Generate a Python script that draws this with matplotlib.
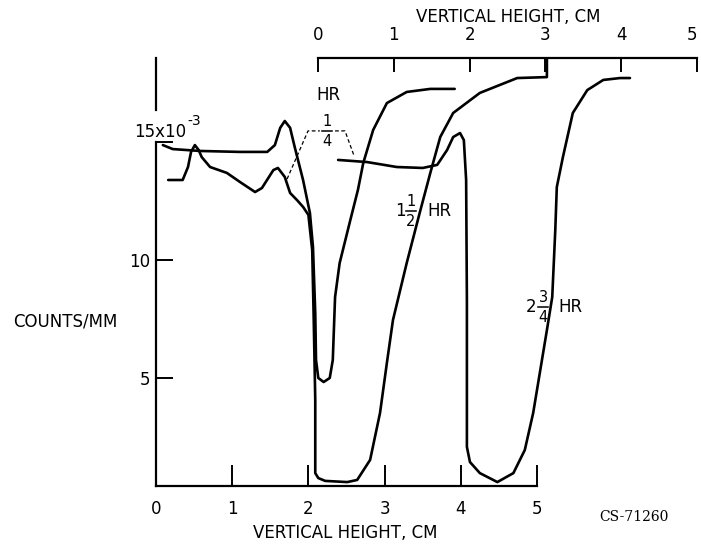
import matplotlib
matplotlib.use('Agg')
import matplotlib.pyplot as plt

plt.rcParams['font.family'] = ['DejaVu Sans']

# curve readings, x in cm (bottom scale), y in counts/mm x 10^-3
quarter_hr_x = [0.09, 0.22, 0.58, 1.10, 1.46, 1.56, 1.63, 1.69, 1.76, 1.82, 1.93,
                2.02, 2.06, 2.09, 2.10, 2.13, 2.20, 2.28, 2.32, 2.35, 2.41, 2.55,
                2.65, 2.72, 2.85, 3.03, 3.29, 3.60, 3.92]
quarter_hr_y = [14.87, 14.70, 14.62, 14.58, 14.58, 14.87, 15.60, 15.89, 15.60, 14.79, 13.39,
                11.99, 10.55, 7.75, 5.76, 5.00, 4.83, 5.00, 5.76, 8.43, 9.87, 11.69,
                12.97, 14.11, 15.51, 16.65, 17.12, 17.25, 17.25]

one_half_hr_x = [0.16, 0.35, 0.42, 0.46, 0.51, 0.56, 0.60, 0.71, 0.93, 1.10, 1.30,
                 1.39, 1.54, 1.60, 1.69, 1.76, 1.85, 1.93, 2.00, 2.05, 2.07, 2.09,
                 2.09, 2.13, 2.22, 2.51, 2.64, 2.81, 2.94, 3.03, 3.11, 3.29, 3.46,
                 3.60, 3.73, 3.90, 4.25, 4.74, 5.13, 5.13]
one_half_hr_y = [13.39, 13.39, 13.94, 14.58, 14.87, 14.66, 14.36, 13.94, 13.69, 13.31, 12.88,
                 13.05, 13.81, 13.90, 13.52, 12.84, 12.54, 12.25, 11.91, 10.42, 7.46, 4.07,
                 0.97, 0.76, 0.64, 0.59, 0.68, 1.53, 3.52, 5.64, 7.46, 9.87, 11.99,
                 13.69, 15.21, 16.23, 17.08, 17.71, 17.75, 18.56]

three_qtr_hr_x = [2.39, 2.77, 3.16, 3.50, 3.69, 3.82, 3.90, 3.99, 4.04, 4.07, 4.08,
                  4.08, 4.12, 4.25, 4.48, 4.69, 4.84, 4.95, 5.13, 5.20, 5.24, 5.26,
                  5.34, 5.47, 5.66, 5.87, 6.09, 6.22]
three_qtr_hr_y = [14.24, 14.15, 13.94, 13.90, 14.03, 14.66, 15.21, 15.38, 15.08, 13.39, 8.30,
                  2.08, 1.44, 0.97, 0.59, 0.97, 1.95, 3.52, 7.03, 8.43, 11.27, 13.09,
                  14.36, 16.23, 17.20, 17.63, 17.71, 17.71]

bottom_ticks = [0, 1, 2, 3, 4, 5]
top_ticks = [0, 1, 2, 3, 4, 5]
y_ticks = [5, 10, 15]
y_ticklabels = ['5', '10', '']

W, H = 701, 545
fig = plt.figure(figsize=(7.01, 5.45), dpi=100)

ax = fig.add_axes([156 / W, (H - 486) / H, (697 - 156) / W, (486 - 58) / H])
ax.set_xlim(0, (697 - 156) / 76.2)
ax.set_ylim((496 - 486) / 23.6, (496 - 58) / 23.6)
ylo, yhi = ax.get_ylim()

lw = 1.9
ax.plot(quarter_hr_x, quarter_hr_y, color='black', lw=lw, solid_capstyle='round')
ax.plot(one_half_hr_x, one_half_hr_y, color='black', lw=lw, solid_capstyle='round')
ax.plot(three_qtr_hr_x, three_qtr_hr_y, color='black', lw=lw, solid_capstyle='round')

for s in ['top', 'right']:
    ax.spines[s].set_visible(False)
for s in ['left', 'bottom']:
    ax.spines[s].set_linewidth(1.6)
ax.spines['bottom'].set_bounds(0, 5)
ax.spines['left'].set_bounds(ylo, 15)
# upper piece of the y axis, above the 15x10-3 label
ax.plot([0, 0], [16.36, yhi], color='black', lw=1.6, clip_on=False)

ax.set_xticks(bottom_ticks)
ax.set_xticklabels([str(t) for t in bottom_ticks])
ax.set_yticks(y_ticks)
ax.set_yticklabels(y_ticklabels)
ax.tick_params(axis='x', direction='in', length=15, width=1.4, pad=10, labelsize=12)
ax.tick_params(axis='y', direction='in', length=12, width=1.4, pad=4, labelsize=12)

# top scale
ax2 = fig.add_axes([318 / W, (H - 68) / H, (697 - 318) / W, 10 / H])
ax2.set_xlim(0, 5)
ax2.patch.set_visible(False)
for s in ['bottom', 'left', 'right']:
    ax2.spines[s].set_visible(False)
ax2.spines['top'].set_linewidth(1.6)
ax2.xaxis.tick_top()
ax2.set_xticks(top_ticks)
ax2.set_xticklabels([str(t) for t in top_ticks])
ax2.set_yticks([])
ax2.tick_params(axis='x', direction='in', length=10, width=1.4, pad=10, labelsize=12)
ax2.get_xticklabels()[-1].set_ha('right')


def ftext(px, py, s, size=12, ha='center', family=None):
    kw = {}
    if family:
        kw['family'] = family
    fig.text(px / W, 1 - py / H, s, ha=ha, va='center', fontsize=size, **kw)


def frac(px, py, num, den, size=10.5):
    ftext(px, py - 10, num, size)
    ftext(px, py + 10, den, size)
    fig.add_artist(plt.Line2D([(px - 5) / W, (px + 5) / W], [1 - py / H, 1 - py / H],
                              color='black', lw=1.1))


ftext(508, 17, 'VERTICAL HEIGHT, CM')
ftext(345, 533, 'VERTICAL HEIGHT, CM')
ftext(13, 321, 'COUNTS/MM', ha='left')
ftext(134, 132, '15x10', ha='left')
ftext(187, 121, '-3', size=10, ha='left')
ftext(634, 517, 'CS-71260', size=10, family=['DejaVu Serif'])

ftext(328, 95, 'HR')
frac(327, 131, '1', '4')
ftext(400, 211, '1')
frac(411, 211, '1', '2')
ftext(427, 211, 'HR', ha='left')
ftext(531, 307, '2')
frac(543, 307, '3', '4')
ftext(558, 307, 'HR', ha='left')

# dashed leaders from the 1/4 label
ax.plot([1.72, 1.995, 2.15], [13.43, 15.47, 15.47], color='black', lw=0.9,
        ls=(0, (3, 2)), clip_on=False)
ax.plot([2.35, 2.48, 2.60], [15.47, 15.47, 14.41], color='black', lw=0.9,
        ls=(0, (3, 2)), clip_on=False)

fig.savefig('out.png', dpi=100)
